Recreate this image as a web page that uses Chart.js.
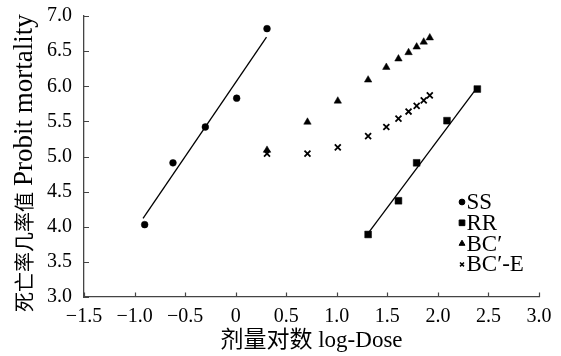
<!DOCTYPE html>
<html><head><meta charset="utf-8">
<script src="https://cdn.jsdelivr.net/npm/chart.js@4.4.1/dist/chart.umd.min.js"></script>
<style>html,body{margin:0;padding:0;background:#fff}#wrap{width:561px;height:356px}</style>
</head><body><div id="wrap"><canvas id="c" width="561" height="356"></canvas></div>
<script>
// ---- data ----
const seriesNames = ['SS', 'RR', 'BC′', 'BC′-E'];
const ssX = [-0.90, -0.62, -0.30, 0.01, 0.31];
const ssY = [4.03, 4.91, 5.42, 5.83, 6.82];
const rrX = [1.31, 1.61, 1.79, 2.09, 2.39];
const rrY = [3.89, 4.37, 4.91, 5.51, 5.96];
const bcX = [0.31, 0.71, 1.01, 1.31, 1.49, 1.61, 1.71, 1.79, 1.86, 1.92];
const bcY = [5.09, 5.49, 5.79, 6.09, 6.27, 6.39, 6.48, 6.56, 6.63, 6.69];
const bceX = [0.31, 0.71, 1.01, 1.31, 1.49, 1.61, 1.71, 1.79, 1.86, 1.92];
const bceY = [5.04, 5.04, 5.13, 5.29, 5.42, 5.54, 5.64, 5.72, 5.80, 5.87];
// fitted regression lines (end points)
const ssFitX = [-0.916, 0.305];
const ssFitY = [4.12, 6.70];
const rrFitX = [1.311, 2.393];
const rrFitY = [3.91, 5.99];
// axes
const xTickValues = [-1.5, -1.0, -0.5, 0, 0.5, 1.0, 1.5, 2.0, 2.5, 3.0];
const xTickLabels = ['−1.5', '−1.0', '−0.5', '0', '0.5', '1.0', '1.5', '2.0', '2.5', '3.0'];
const yTickValues = [3.0, 3.5, 4.0, 4.5, 5.0, 5.5, 6.0, 6.5, 7.0];
const yTickLabels = ['3.0', '3.5', '4.0', '4.5', '5.0', '5.5', '6.0', '6.5', '7.0'];
const xTitle = '剂量对数 log-Dose';
const yTitleCn = '死亡率几率值';
const yTitleEn = 'Probit mortality';

const pts = (xs, ys) => xs.map((x, i) => ({x: x, y: ys[i]}));
const SERIF = "'Liberation Serif', 'Times New Roman', 'Noto Sans CJK SC', serif";
const CJK = "'Noto Sans CJK SC', sans-serif";
const AXIS = '#444';

const inwardTicks = {
  id: 'inwardTicks',
  afterDraw(chart) {
    const {ctx, chartArea: a, scales: {x, y}} = chart;
    ctx.save();
    ctx.strokeStyle = AXIS; ctx.lineWidth = 1.2;
    ctx.beginPath();
    xTickValues.forEach(v => { const px = Math.round(x.getPixelForValue(v)) + 0.5; ctx.moveTo(px, a.bottom); ctx.lineTo(px, a.bottom - 4.5); });
    yTickValues.forEach(v => { const py = Math.round(y.getPixelForValue(v)) + 0.5; ctx.moveTo(a.left, py); ctx.lineTo(a.left + 5, py); });
    ctx.stroke();
    ctx.restore();
  }
};

// y-axis title with Chinese and Latin parts in their own sizes
const yAxisTitle = {
  id: 'yAxisTitle',
  afterDraw(chart) {
    const {ctx, chartArea: a} = chart;
    ctx.save();
    ctx.translate(a.left - 52.5, a.bottom + 15);
    ctx.rotate(-Math.PI / 2);
    ctx.fillStyle = '#000';
    ctx.textAlign = 'left'; ctx.textBaseline = 'alphabetic';
    ctx.font = '20px ' + CJK;
    ctx.fillText(yTitleCn, 0, 0);
    const w = ctx.measureText(yTitleCn).width;
    ctx.font = '27px ' + SERIF;
    ctx.fillText(yTitleEn, w + 6, 0);
    ctx.restore();
  }
};

const legendSizes = [2.9, 4.0, 3.4, 2.8];
const customLegend = {
  id: 'customLegend',
  afterDraw(chart) {
    const {ctx, chartArea: a} = chart;
    ctx.save();
    const x0 = a.right - 77, y0 = a.top + 186, step = 20.8;
    chart.data.datasets.slice(0, 4).forEach((ds, i) => {
      const yy = y0 + i * step;
      ctx.fillStyle = '#000'; ctx.strokeStyle = '#000';
      ctx.lineWidth = ds.pointStyle === 'crossRot' ? 1.5 : 1;
      Chart.helpers.drawPoint(ctx, {pointStyle: ds.pointStyle, radius: legendSizes[i], borderWidth: ctx.lineWidth, rotation: 0}, x0, yy);
      ctx.font = "23px " + SERIF;
      ctx.textBaseline = 'middle'; ctx.textAlign = 'left';
      ctx.fillStyle = '#000';
      ctx.fillText(ds.label, x0 + 4.5, yy + 1);
    });
    ctx.restore();
  }
};

const noPad = s => { s.paddingTop = 0; s.paddingBottom = 0; s.paddingLeft = 0; s.paddingRight = 0; };

new Chart(document.getElementById('c'), {
  type: 'scatter',
  data: {
    datasets: [
      {label: seriesNames[0], data: pts(ssX, ssY), pointStyle: 'circle', pointRadius: 3.4, backgroundColor: '#000', borderColor: '#000', borderWidth: 0.5},
      {label: seriesNames[1], data: pts(rrX, rrY), pointStyle: 'rect', pointRadius: 4.8, backgroundColor: '#000', borderColor: '#000', borderWidth: 0.5},
      {label: seriesNames[2], data: pts(bcX, bcY), pointStyle: 'triangle', pointRadius: 4.3, backgroundColor: '#000', borderColor: '#000', borderWidth: 0.5},
      {label: seriesNames[3], data: pts(bceX, bceY), pointStyle: 'crossRot', pointRadius: 4.2, backgroundColor: '#000', borderColor: '#000', borderWidth: 1.8},
      {label: 'fitSS', data: pts(ssFitX, ssFitY), showLine: true, pointRadius: 0, borderColor: '#000', borderWidth: 1.3, fill: false},
      {label: 'fitRR', data: pts(rrFitX, rrFitY), showLine: true, pointRadius: 0, borderColor: '#000', borderWidth: 1.3, fill: false}
    ]
  },
  options: {
    responsive: false, animation: false, devicePixelRatio: 1,
    layout: {padding: {top: 16, right: 22, left: 0, bottom: 0}},
    plugins: {legend: {display: false}, tooltip: {enabled: false}},
    scales: {
      x: {
        type: 'linear', min: -1.5, max: 3.0,
        afterBuildTicks: s => { s.ticks = xTickValues.map(v => ({value: v})); },
        afterFit: s => { s.height = 59; noPad(s); },
        grid: {display: false, drawTicks: false},
        border: {display: true, color: AXIS, width: 1.3},
        ticks: {color: '#000', padding: 8, maxRotation: 0, autoSkip: false, font: {family: SERIF, size: 20}, callback: (v, i) => xTickLabels[i]},
        title: {display: true, text: xTitle, color: '#000', font: {family: SERIF, size: 23, lineHeight: 1.2}, padding: {top: 0, bottom: 1}}
      },
      y: {
        type: 'linear', min: 3.0, max: 7.0,
        afterBuildTicks: s => { s.ticks = yTickValues.map(v => ({value: v})); },
        afterFit: s => { s.width = 84; noPad(s); },
        grid: {display: false, drawTicks: false},
        border: {display: true, color: AXIS, width: 1.3},
        ticks: {color: '#000', padding: 12, autoSkip: false, font: {family: SERIF, size: 20}, callback: (v, i) => yTickLabels[i]},
        title: {display: false}
      }
    }
  },
  plugins: [inwardTicks, yAxisTitle, customLegend]
});
</script>
</body></html>
